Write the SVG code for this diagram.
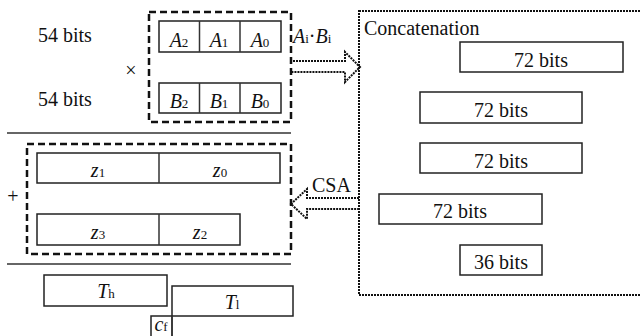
<svg xmlns="http://www.w3.org/2000/svg" width="640" height="336" viewBox="0 0 640 336" font-family="Liberation Serif, DejaVu Serif, serif">
<style>
text{font-family:'Liberation Serif','DejaVu Serif',serif;font-size:20px;fill:#111}
.it{font-style:italic}
.sub{font-size:13px;font-style:normal}
.box{fill:#fff;stroke:#222;stroke-width:1.5}
.dash{fill:none;stroke:#111;stroke-width:2.5;stroke-dasharray:7 4}
.dot{fill:none;stroke:#111;stroke-width:2;stroke-dasharray:2 1}
.line{stroke:#333;stroke-width:1.5}
</style>
<rect width="640" height="336" fill="#fff"/>
<g id="labels">
<text x="38" y="42">54 bits</text>
<text x="38" y="106">54 bits</text>
<text x="131" y="77" text-anchor="middle" font-size="16">×</text>
<text x="13" y="203" text-anchor="middle" font-size="18">+</text>
</g>
<g id="operands">
<rect class="dash" x="149" y="12" width="142" height="110"/>
<g id="A">
<rect class="box" x="159" y="21" width="122" height="31"/>
<line class="line" x1="199.5" y1="21" x2="199.5" y2="52"/>
<line class="line" x1="240" y1="21" x2="240" y2="52"/>
<text x="179" y="47" text-anchor="middle" class="it">A<tspan class="sub">2</tspan></text>
<text x="219" y="47" text-anchor="middle" class="it">A<tspan class="sub">1</tspan></text>
<text x="260" y="47" text-anchor="middle" class="it">A<tspan class="sub">0</tspan></text>
</g>
<g id="B">
<rect class="box" x="159" y="83" width="122" height="30"/>
<line class="line" x1="199.5" y1="83" x2="199.5" y2="113"/>
<line class="line" x1="240" y1="83" x2="240" y2="113"/>
<text x="179" y="108" text-anchor="middle" class="it">B<tspan class="sub">2</tspan></text>
<text x="219" y="108" text-anchor="middle" class="it">B<tspan class="sub">1</tspan></text>
<text x="260" y="108" text-anchor="middle" class="it">B<tspan class="sub">0</tspan></text>
</g>
</g>
<g id="concatenation">
<rect class="dot" x="359" y="11" width="300" height="284"/>
<text x="364" y="35">Concatenation</text>
<rect class="box" x="460" y="42" width="163" height="30"/>
<text x="541" y="67" text-anchor="middle">72 bits</text>
<rect class="box" x="420" y="92" width="162" height="31"/>
<text x="501" y="117" text-anchor="middle">72 bits</text>
<rect class="box" x="420" y="143" width="162" height="30"/>
<text x="501" y="168" text-anchor="middle">72 bits</text>
<rect class="box" x="379" y="194" width="163" height="30"/>
<text x="460" y="218" text-anchor="middle">72 bits</text>
<rect class="box" x="460" y="245" width="82" height="30"/>
<text x="501" y="269" text-anchor="middle">36 bits</text>
</g>
<g id="sum">
<line class="line" x1="7" y1="133" x2="291" y2="133"/>
<rect class="dash" x="27" y="144" width="264" height="110"/>
<rect class="box" x="37" y="153" width="243" height="30"/>
<line class="line" x1="159" y1="153" x2="159" y2="183"/>
<text x="98" y="177" text-anchor="middle" class="it">z<tspan class="sub">1</tspan></text>
<text x="220" y="177" text-anchor="middle" class="it">z<tspan class="sub">0</tspan></text>
<rect class="box" x="37" y="214" width="203" height="31"/>
<line class="line" x1="159" y1="214" x2="159" y2="245"/>
<text x="98" y="239" text-anchor="middle" class="it">z<tspan class="sub">3</tspan></text>
<text x="200" y="239" text-anchor="middle" class="it">z<tspan class="sub">2</tspan></text>
<line class="line" x1="7" y1="264" x2="291" y2="264"/>
</g>
<g id="result">
<rect class="box" x="44" y="275" width="123" height="31"/>
<text x="106" y="298" text-anchor="middle" class="it">T<tspan class="sub it">h</tspan></text>
<rect class="box" x="151" y="316" width="21" height="24"/>
<text x="161" y="331" text-anchor="middle" class="it">c<tspan class="sub it">f</tspan></text>
<rect class="box" x="172" y="286" width="121" height="30"/>
<line class="line" x1="172" y1="316" x2="172" y2="340"/>
<text x="232" y="309" text-anchor="middle" class="it">T<tspan class="sub it">l</tspan></text>
</g>
<g id="connectors">
<path class="dot" d="M290,61 H345 V52 L360,67 L345,82 V72 H290" fill="#fff"/>
<text x="293" y="43" class="it">A<tspan class="sub">i</tspan><tspan font-style="normal">·</tspan>B<tspan class="sub">i</tspan></text>
<path class="dot" d="M359,198 H307 V189 L291,204 L307,219 V209 H359" fill="#fff"/>
<text x="312" y="192">CSA</text>
</g>
</svg>
